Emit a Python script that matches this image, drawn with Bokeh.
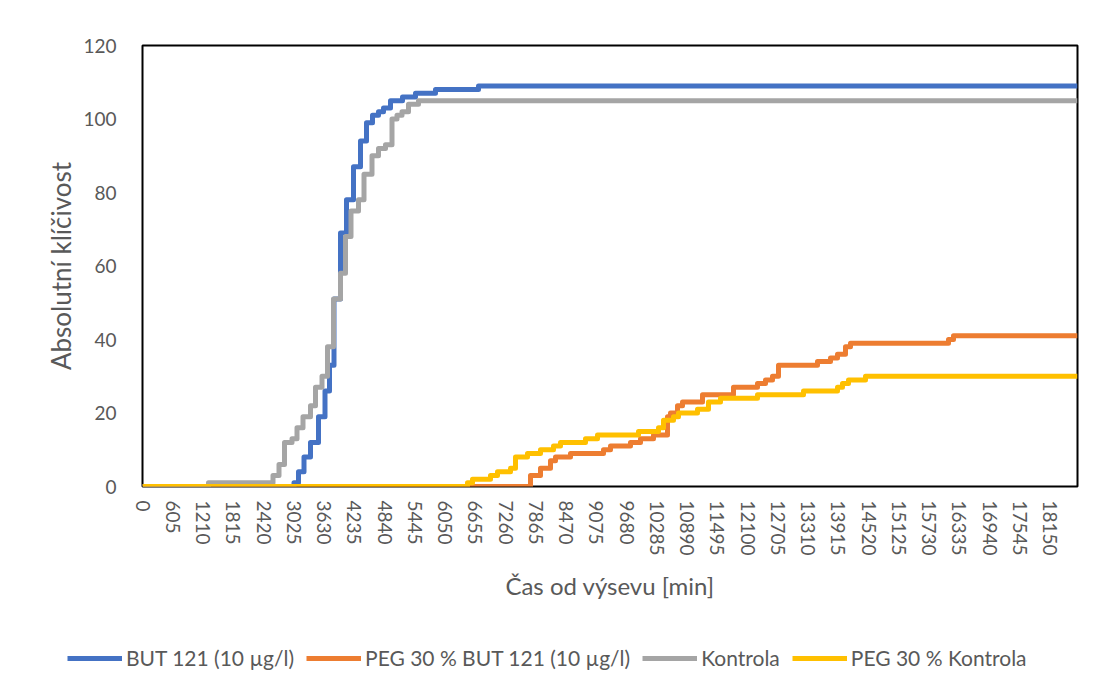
from bokeh.plotting import figure
from bokeh.models import Range1d, FixedTicker, Legend, LegendItem
from bokeh.embed import file_html
from bokeh.resources import INLINE

# ---- data (time in minutes, absolute germination count) ----
T_END = 18700
x_ticks = list(range(0, 18151, 605))

but_t = [0, 3030, 3120, 3230, 3360, 3520, 3650, 3740, 3830, 3960, 4080, 4220, 4360,
         4480, 4600, 4720, 4820, 4960, 5200, 5460, 5860, 6720]
but_v = [0, 1, 4, 8, 12, 19, 26, 33, 51, 69, 78, 87, 94,
         99, 101, 102, 103, 105, 106, 107, 108, 109]

peg_but_t = [0, 7760, 7960, 8160, 8260, 8560, 9220, 9360, 9760, 9960, 10220, 10500,
             10560, 10700, 10800, 11200, 11820, 12300, 12460, 12600, 12720, 13500,
             13760, 13900, 14060, 14160, 16120, 16220]
peg_but_v = [0, 3, 5, 7, 8, 9, 10, 11, 12, 13, 14, 19,
             20, 22, 23, 25, 27, 28, 29, 30, 33, 34,
             35, 36, 38, 39, 40, 41]

kon_t = [0, 1320, 2610, 2730, 2840, 2990, 3090, 3210, 3360, 3460, 3590, 3700, 3820,
         3960, 4060, 4170, 4320, 4430, 4590, 4720, 4860, 4990, 5090, 5190, 5320, 5520]
kon_v = [0, 1, 3, 6, 12, 13, 16, 19, 22, 27, 30, 38, 51,
         58, 68, 75, 78, 85, 90, 92, 93, 100, 101, 102, 104, 105]

peg_kon_t = [0, 6500, 6600, 6960, 7100, 7360, 7460, 7700, 7960, 8220, 8360, 8860, 9100,
             9920, 10320, 10420, 10620, 10720, 11100, 11320, 11560, 12300, 13220, 13900,
             14000, 14120, 14460]
peg_kon_v = [0, 1, 2, 3, 4, 5, 8, 9, 10, 11, 12, 13, 14,
             15, 16, 18, 19, 20, 21, 23, 24, 25, 26, 27,
             28, 29, 30]

series = [
    ("BUT 121 (10 µg/l)", but_t, but_v, "#4472C4"),
    ("PEG 30 % BUT 121 (10 µg/l)", peg_but_t, peg_but_v, "#ED7D31"),
    ("Kontrola", kon_t, kon_v, "#A5A5A5"),
    ("PEG 30 % Kontrola", peg_kon_t, peg_kon_v, "#FFC000"),
]

FONT = "Lato"
TXT = "#595959"

p = figure(frame_width=935, frame_height=441,
           min_border_left=142, min_border_right=10, min_border_top=45, min_border_bottom=140,
           x_range=Range1d(0, T_END), y_range=Range1d(0, 120),
           output_backend="svg", toolbar_location=None)

p.outline_line_color = "black"
p.outline_line_width = 2
p.outline_line_alpha = 1
p.xgrid.visible = False
p.ygrid.visible = False

# legend strip below the chart (same series drawn out of view, only the legend shows)
leg = figure(width=1087, height=52, min_border=0,
             x_range=Range1d(0, T_END), y_range=Range1d(1000, 1001),
             output_backend="svg", toolbar_location=None)
leg.axis.visible = False
leg.xgrid.visible = False
leg.ygrid.visible = False
leg.outline_line_color = None

items = []
for name, t, v, col in series:
    tt = t + [T_END]
    vv = v + [v[-1]]
    p.step(tt, vv, mode="after", line_color=col, line_width=5, line_join="round")
    r = leg.step(tt, vv, mode="after", line_color=col, line_width=5, line_join="round")
    items.append(LegendItem(label=name, renderers=[r]))

# y axis
p.yaxis.ticker = FixedTicker(ticks=[0, 20, 40, 60, 80, 100, 120])
p.yaxis.axis_label = "Absolutní klíčivost"
p.yaxis.axis_label_text_font = FONT
p.yaxis.axis_label_text_font_size = "26px"
p.yaxis.axis_label_text_font_style = "normal"
p.yaxis.axis_label_text_color = TXT
p.yaxis.axis_label_standoff = 3
p.yaxis.major_label_text_font = FONT
p.yaxis.major_label_text_font_size = "19px"
p.yaxis.major_label_text_color = TXT
p.yaxis.major_label_standoff = 20
p.yaxis.major_tick_line_color = None
p.yaxis.minor_tick_line_color = None
p.yaxis.axis_line_color = None

# x axis
p.xaxis.ticker = FixedTicker(ticks=x_ticks)
p.xaxis.major_label_orientation = "vertical"
p.xaxis.axis_label = "Čas od výsevu [min]"
p.xaxis.axis_label_text_font = FONT
p.xaxis.axis_label_text_font_size = "24px"
p.xaxis.axis_label_text_font_style = "normal"
p.xaxis.axis_label_text_color = TXT
p.xaxis.axis_label_standoff = 12
p.xaxis.major_label_text_font = FONT
p.xaxis.major_label_text_font_size = "19px"
p.xaxis.major_label_text_color = TXT
p.xaxis.major_label_standoff = 8
p.xaxis.major_tick_line_color = None
p.xaxis.minor_tick_line_color = None
p.xaxis.axis_line_color = None

legend = Legend(items=items, orientation="horizontal", location=(67, 8),
                glyph_width=55, glyph_height=24, label_standoff=4, spacing=12,
                padding=0, margin=0, border_line_color=None, background_fill_alpha=0,
                label_text_font=FONT, label_text_font_size="21px", label_text_color=TXT)
leg.add_layout(legend, "center")

open("out.html", "w").write(file_html([p, leg], INLINE))
